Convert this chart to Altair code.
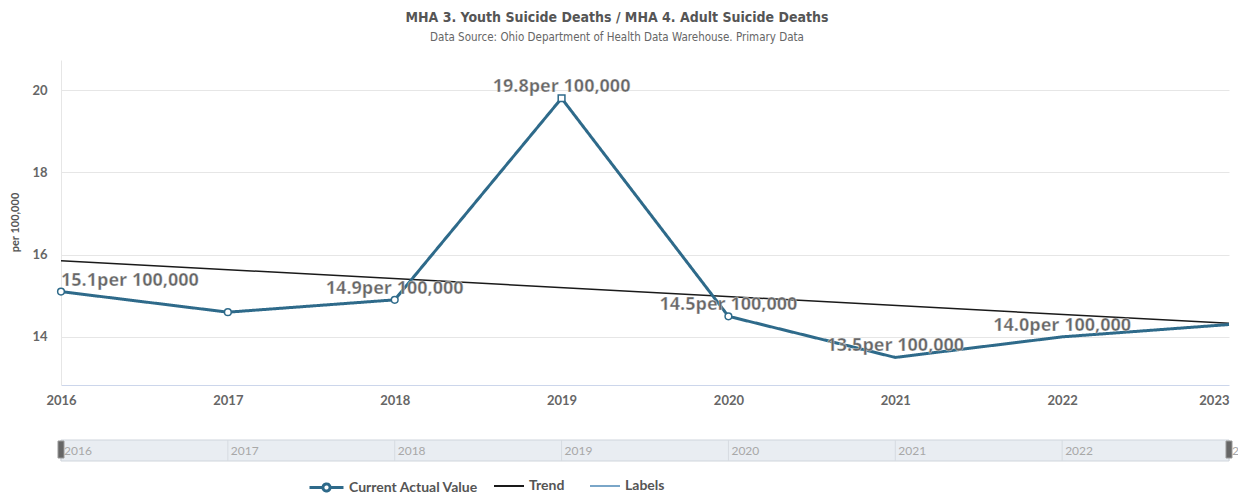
import altair as alt
import pandas as pd

# Rate per 100,000 by year
years = [2016, 2017, 2018, 2019, 2020, 2021, 2022, 2023]
actual = [15.1, 14.6, 14.9, 19.8, 14.5, 13.5, 14.0, 14.3]

# Linear trend end points
trend_years = [2016, 2023]
trend_values = [15.85, 14.33]

# Years that carry a data label / visible marker
label_years = [2016, 2018, 2019, 2020, 2021, 2022]
marker_years = [2016, 2017, 2018, 2019, 2020]
marker_shapes = ["circle", "circle", "circle", "square", "circle"]

y_ticks = [14, 16, 18, 20]

LINE = "#2e6a8a"
TREND = "#1a1a1a"
LABELS = "#7aa6c8"
TEXT = "#666666"
FONT = "Lato"
LABEL_FONT = "Open Sans"

lookup = dict(zip(years, actual))
actual_df = pd.DataFrame({"year": years, "value": actual, "series": "Current Actual Value"})
trend_df = pd.DataFrame({"year": trend_years, "value": trend_values, "series": "Trend"})
labels_df = pd.DataFrame({
    "year": label_years,
    "value": [lookup[y] for y in label_years],
    "text": [f"{lookup[y]:.1f}per 100,000" for y in label_years],
})
marker_df = pd.DataFrame({
    "year": marker_years,
    "value": [lookup[y] for y in marker_years],
    "shape": marker_shapes,
})
nav_df = pd.DataFrame({"year": years, "label": [str(y) for y in years]})

W, H = 1168, 325

x_scale = alt.Scale(domain=[2016, 2023], nice=False, zero=False, padding=0)
y_scale = alt.Scale(domain=[12.83, 20.73], nice=False, zero=False)

x_enc = alt.X(
    "year:Q", scale=x_scale, title=None,
    axis=alt.Axis(
        values=years, format="d", grid=False, ticks=False,
        domainColor="#ccd6eb", labelPadding=9,
        labelFontSize=13, labelFontWeight="bold", labelColor=TEXT, labelFont=FONT,
        labelAlign={"condition": {"test": "datum.value == 2023", "value": "right"}, "value": "center"},
    ),
)
y_enc = alt.Y(
    "value:Q", scale=y_scale, title="per 100,000",
    axis=alt.Axis(
        values=y_ticks, grid=True, gridColor="#e6e6e6", ticks=False,
        domainColor="#e6e6e6", labelPadding=14,
        labelFontSize=13, labelFontWeight="bold", labelColor=TEXT, labelFont=FONT,
        titleFontSize=11, titleFontWeight="bold", titleColor="#555555", titleFont=FONT,
        titleX=-46, titleY=162, titleAngle=270, titleAlign="center", titleBaseline="middle",
    ),
)

actual_symbol = ("M-1,0L-0.21,0M0.21,0L1,0"
                 "M-0.21,0A0.21,0.21,0,1,0,0.21,0A0.21,0.21,0,1,0,-0.21,0")

legend_common = dict(
    orient="none", direction="horizontal", title=None, padding=0,
    labelFontSize=14, labelFontWeight="bold", labelColor="#555555", labelFont=FONT,
)

actual_line = alt.Chart(actual_df).mark_line(strokeWidth=3, color=LINE).encode(
    x=x_enc, y=y_enc,
    strokeDash=alt.StrokeDash(
        "series:N", scale=alt.Scale(domain=["Current Actual Value"], range=[[1, 0]]),
        legend=alt.Legend(symbolType=actual_symbol, symbolSize=1156, symbolStrokeWidth=3,
                          symbolStrokeColor=LINE, symbolFillColor="white",
                          legendX=247, legendY=409, labelOffset=4, **legend_common),
    ),
)

trend_line = alt.Chart(trend_df).mark_line(strokeWidth=1.5).encode(
    x="year:Q", y="value:Q",
    color=alt.Color(
        "series:N", scale=alt.Scale(domain=["Trend", "Labels"], range=[TREND, LABELS]),
        legend=alt.Legend(symbolType="stroke", symbolSize=900, symbolStrokeWidth=2,
                          legendX=432, legendY=410, labelOffset=4, columnPadding=21,
                          **legend_common),
    ),
)

markers = alt.Chart(marker_df).mark_point(
    filled=True, fill="white", stroke=LINE, strokeWidth=1.5, size=45, opacity=1
).encode(
    x="year:Q", y="value:Q",
    shape=alt.Shape("shape:N", scale=None, legend=None),
)

label_style = dict(fontSize=18, fontWeight="bold", color=TEXT, font=LABEL_FONT, dy=-11,
                   baseline="middle", stroke="white", strokeWidth=0.6, strokeOpacity=0.6)

first_label = alt.Chart(labels_df).transform_filter("datum.year == 2016").mark_text(
    align="left", dx=0, **label_style
).encode(x="year:Q", y="value:Q", text="text:N")

other_labels = alt.Chart(labels_df).transform_filter("datum.year != 2016").mark_text(
    align="center", **label_style
).encode(x="year:Q", y="value:Q", text="text:N")

# Range navigator strip under the x axis
nav_band = alt.Chart(pd.DataFrame({"start": [years[0]], "end": [years[-1]]})).mark_rect(
    fill="#e9edf2", stroke="#cfd5dc", strokeWidth=1
).encode(x="start:Q", x2="end:Q", y=alt.value(380), y2=alt.value(401))

nav_lines = alt.Chart(nav_df).mark_rule(color="#d6dbe1", strokeWidth=1).encode(
    x="year:Q", y=alt.value(380), y2=alt.value(401)
)

nav_text = alt.Chart(nav_df).mark_text(
    align="left", baseline="middle", dx=3, fontSize=12, color="#a8a8a8", font=FONT
).encode(x="year:Q", y=alt.value(391), text="label:N")

nav_handles = alt.Chart(pd.DataFrame({"year": [years[0], years[-1]]})).mark_bar(
    size=6, color="#666666", stroke="#999999", strokeWidth=1
).encode(x="year:Q", y=alt.value(381), y2=alt.value(398))

chart = alt.layer(
    nav_band, nav_lines, nav_text, nav_handles,
    trend_line, actual_line, markers, first_label, other_labels,
).resolve_legend(
    color="independent", strokeDash="independent"
).properties(
    width=W, height=H,
    autosize=alt.AutoSizeParams(type="none"),
    padding={"left": 61, "top": 60, "right": 9, "bottom": 111},
    title=alt.TitleParams(
        text="MHA 3. Youth Suicide Deaths / MHA 4. Adult Suicide Deaths",
        subtitle="Data Source: Ohio Department of Health Data Warehouse. Primary Data",
        anchor="middle", dx=-28, offset=17,
        font="Liberation Sans Narrow, DejaVu Sans Condensed, sans-serif",
        fontSize=14, fontWeight="bold", color="#555555",
        subtitleFont="Liberation Sans Narrow, DejaVu Sans Condensed, sans-serif",
        subtitleFontSize=11.5, subtitleColor="#666666", subtitlePadding=7,
    ),
).configure_view(stroke=None)

chart.save("out.html", embed_options={"renderer": "svg", "actions": False})
